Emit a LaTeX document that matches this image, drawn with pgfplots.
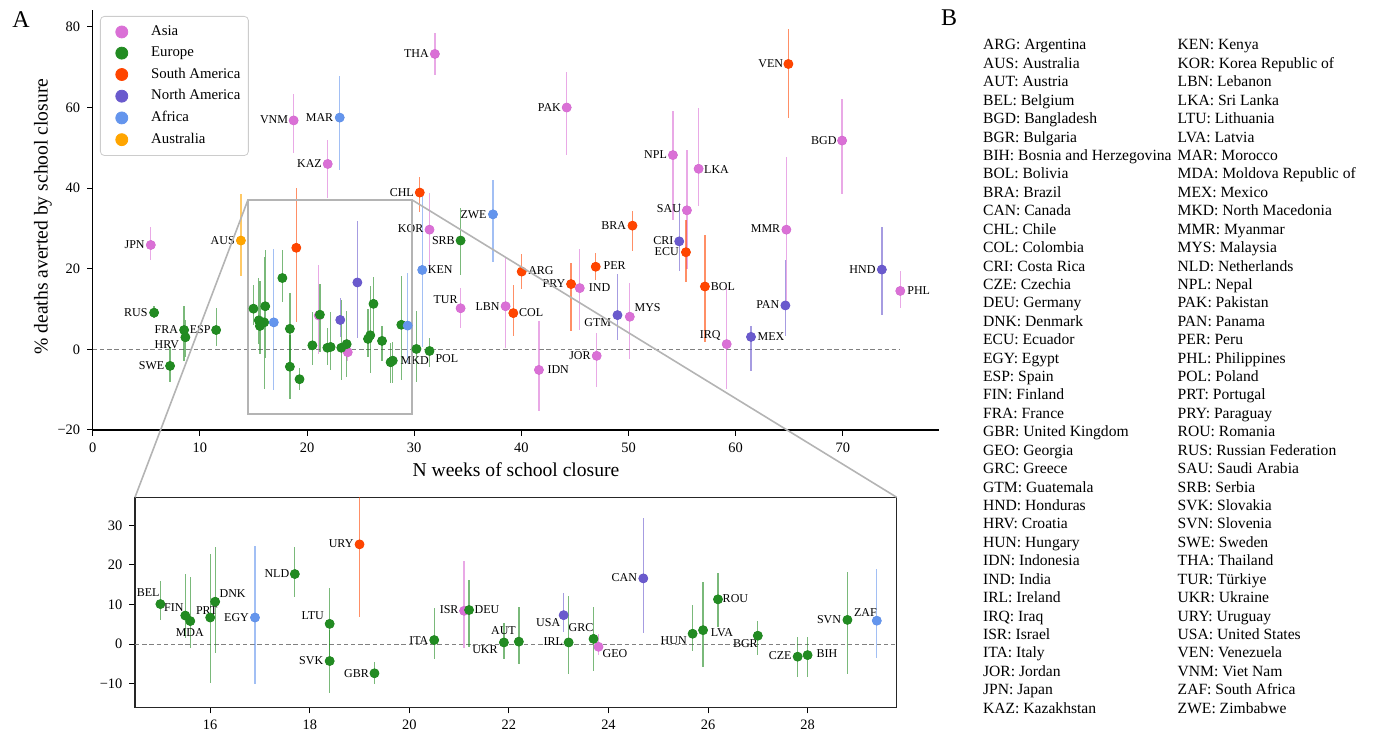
\documentclass[border=0pt]{standalone}
\usepackage{fontspec}
\setmainfont{Liberation Serif}
\usepackage{pgfplots}
\usepackage{pgfplotstable}
\pgfplotsset{compat=1.18}

\definecolor{asia}{HTML}{DA70D6}
\definecolor{europe}{HTML}{228B22}
\definecolor{samer}{HTML}{FF4500}
\definecolor{namer}{HTML}{6A5ACD}
\definecolor{africa}{HTML}{6495ED}
\definecolor{austr}{HTML}{FFA500}
\definecolor{zoomgray}{HTML}{B4B4B4}

\newcommand\labfont{\fontsize{6}{7}\selectfont}
\newcommand\tickfont{\fontsize{7.2}{8.5}\selectfont}
\newcommand\bfont{\fontsize{7.8}{9.2}\selectfont}

% name x y lo hi  (lo/hi = ends of the error bar)
\pgfplotstableread{
name x y lo hi
JPN 5.42 25.9 22.1 30.4
THA 31.93 73.3 68.1 78.4
VNM 18.75 56.8 48.7 63.3
KAZ 21.93 46.0 37.5 52.0
PAK 44.23 60.0 48.2 68.9
NPL 54.14 48.2 32.0 59.1
SAU 55.45 34.5 20.0 49.5
LKA 56.54 44.8 35.6 60.0
BGD 69.93 51.8 38.5 62.1
MMR 64.73 29.7 12.0 47.8
KOR 31.43 29.7 19.0 38.8
TUR 34.33 10.2 5.2 15.2
LBN 38.53 10.7 0.3 23.0
IND 45.45 15.2 4.8 24.8
MYS 50.12 8.1 -2.5 16.4
JOR 47.03 -1.6 -9.4 4.1
IDN 41.64 -5.1 -15.2 7.0
IRQ 59.16 1.3 -9.8 15.2
PHL 75.36 14.5 10.3 19.5
ISR 21.1 8.4 -1.1 21.0
GEO 23.8 -0.7 -2.8 2.5
}\asia

\pgfplotstableread{
name x y lo hi
RUS 5.73 9.1 7.7 10.8
FRA 8.53 4.8 -3.0 10.8
HRV 8.65 3.0 -1.8 7.3
ESP 11.52 4.8 0.8 10.3
SWE 7.22 -4.1 -8.0 0.7
SRB 34.33 27.0 18.5 35.0
POL 31.43 -0.4 -4.3 2.8
MKD 30.21 0.1 -8.0 9.4
BEL 15.0 10.1 6.1 16.0
FIN 15.5 7.2 1.4 17.6
MDA 15.6 5.8 -1.1 16.9
PRT 16.0 6.7 -9.8 22.8
DNK 16.1 10.7 -2.2 24.6
NLD 17.7 17.7 11.8 24.6
LTU 18.4 5.1 -3.5 14.1
SVK 18.4 -4.3 -12.3 3.5
GBR 19.3 -7.4 -10.1 -4.5
ITA 20.5 1.0 -3.9 9.2
DEU 21.2 8.6 -0.7 16.2
UKR 21.9 0.4 -3.9 5.2
AUT 22.2 0.6 -5.1 9.3
IRL 23.2 0.4 -7.6 12.2
GRC 23.7 1.3 -6.8 9.4
HUN 25.69 2.6 -1.8 9.9
LVA 25.9 3.5 -5.9 15.8
ROU 26.2 11.3 4.4 17.9
BGR 27.0 2.1 -2.8 5.9
CZE 27.8 -3.2 -8.4 1.7
BIH 28.0 -2.8 -8.3 1.9
SVN 28.8 6.1 -7.6 18.1
}\europe

\pgfplotstableread{
name x y lo hi
VEN 64.92 70.8 57.5 79.4
CHL 30.52 38.9 34.2 42.7
BRA 50.37 30.7 24.5 34.3
ARG 40.03 19.3 14.9 23.7
PER 46.94 20.5 17.2 23.8
PRY 44.64 16.2 4.6 21.5
COL 39.25 9.0 3.2 16.0
ECU 55.36 24.1 16.8 32.1
BOL 57.13 15.6 1.9 28.4
URY 19.0 25.2 6.8 40.0
}\samer

\pgfplotstableread{
name x y lo hi
CRI 54.73 26.8 19.5 36.3
GTM 48.97 8.5 2.3 18.7
PAN 64.64 10.9 3.2 22.2
MEX 61.43 3.1 -5.4 5.9
HND 73.64 19.8 8.5 30.3
USA 23.1 7.3 3.0 12.8
CAN 24.7 16.6 2.7 31.8
}\namer

\pgfplotstableread{
name x y lo hi
MAR 23.05 57.5 44.5 67.9
ZWE 37.35 33.5 21.8 42.0
KEN 30.75 19.7 0.5 38.5
EGY 16.9 6.7 -10.0 24.8
ZAF 29.39 5.9 -3.5 18.9
}\africa

\pgfplotstableread{
name x y lo hi
AUS 13.83 27.0 18.2 38.5
}\austr

\newcommand{\errs}[2]{\addplot[only marks, mark=none, forget plot,
  error bars/.cd, y dir=both, y explicit, error mark=none,
  error bar style={color=#2, line width=0.65pt, opacity=0.6}]
  table[x=x, y=y, y error plus expr=\thisrow{hi}-\thisrow{y},
        y error minus expr=\thisrow{y}-\thisrow{lo}] {#1};}
\newcommand{\pts}[2]{\addplot[only marks, mark=*, mark size=2.25pt,
  draw=#2, fill=#2] table[x=x, y=y] {#1};}
\newcommand{\lab}[3]{\node[font=\labfont, inner sep=0pt] at (axis cs:#1,#2) {#3};}

\pgfplotsset{
  every axis/.append style={
    scale only axis,
    tick label style={font=\tickfont},
    tick align=outside,
    major tick length=2.8pt,
    every tick/.style={black, line width=0.5pt},
    axis line style={line width=0.6pt},
    /pgf/number format/assume math mode=true,
  },
}

\begin{document}
\begin{tikzpicture}
\useasboundingbox (0,0) rectangle (687pt,366pt);

\begin{axis}[
  at={(46.35pt,151pt)}, anchor=south west,
  width=423.3pt, height=210pt,
  xmin=0, xmax=79, ymin=-20, ymax=84.2,
  axis x line*=bottom, axis y line*=left,
  xtick={0,10,...,70},
  ytick={-20,0,20,40,60,80},
  yticklabels={−20,0,20,40,60,80},
  xlabel={N weeks of school closure},
  ylabel={\% deaths averted by school closure},
  label style={font=\fontsize{9.8}{11}\selectfont},
  xlabel style={at={(axis description cs:0.5,-0.0952)}, anchor=center},
  ylabel style={at={(axis description cs:-0.0587,0.508)}, anchor=center, rotate=0},
  legend style={at={(0.0086,0.9857)}, anchor=north west,
    draw=black!20, rounded corners=2pt, fill=white,
    font=\fontsize{7.4}{9}\selectfont, row sep=0.2pt,
    inner xsep=2pt, inner ysep=2.6pt, cells={anchor=west}},
  legend image code/.code={\path (-8.5pt,0pt) (12.5pt,0pt);
    \draw[#1, mark size=3pt] plot coordinates {(0pt,0pt)};},
]
\addplot[gray, dashed, line width=0.5pt, dash pattern=on 2.2pt off 1.4pt, forget plot]
  coordinates {(0,0) (75.36,0)};
\errs{\asia}{asia}
\errs{\europe}{europe}
\errs{\samer}{samer}
\errs{\namer}{namer}
\errs{\africa}{africa}
\errs{\austr}{austr}
\pts{\asia}{asia}\addlegendentry{Asia}
\pts{\europe}{europe}\addlegendentry{Europe}
\pts{\samer}{samer}\addlegendentry{South America}
\pts{\namer}{namer}\addlegendentry{North America}
\pts{\africa}{africa}\addlegendentry{Africa}
\pts{\austr}{austr}\addlegendentry{Australia}

\lab{3.91}{25.9}{JPN}
\lab{30.21}{73.4}{THA}
\lab{16.92}{56.9}{VNM}
\lab{21.17}{57.6}{MAR}
\lab{20.23}{46.2}{KAZ}
\lab{42.62}{60.0}{PAK}
\lab{52.52}{48.4}{NPL}
\lab{58.21}{44.7}{LKA}
\lab{63.27}{71.0}{VEN}
\lab{68.23}{51.9}{BGD}
\lab{28.84}{39.0}{CHL}
\lab{35.54}{33.5}{ZWE}
\lab{29.67}{29.9}{KOR}
\lab{32.72}{27.1}{SRB}
\lab{32.43}{19.7}{KEN}
\lab{32.93}{12.4}{TUR}
\lab{36.85}{10.7}{LBN}
\lab{40.92}{9.1}{COL}
\lab{41.83}{19.5}{ARG}
\lab{43.04}{16.4}{PRY}
\lab{47.3}{15.3}{IND}
\lab{48.7}{20.7}{PER}
\lab{48.61}{30.8}{BRA}
\lab{47.13}{6.7}{GTM}
\lab{51.78}{10.4}{MYS}
\lab{45.47}{-1.5}{JOR}
\lab{43.44}{-5.1}{IDN}
\lab{33.05}{-2.2}{POL}
\lab{30.05}{-2.9}{MKD}
\lab{53.77}{34.9}{SAU}
\lab{53.25}{27.1}{CRI}
\lab{53.56}{24.2}{ECU}
\lab{62.79}{29.9}{MMR}
\lab{58.81}{15.7}{BOL}
\lab{71.83}{19.9}{HND}
\lab{77.08}{14.5}{PHL}
\lab{62.99}{11.2}{PAN}
\lab{57.62}{3.5}{IRQ}
\lab{63.3}{3.1}{MEX}
\lab{4.03}{9.2}{RUS}
\lab{6.87}{5.0}{FRA}
\lab{10.03}{5.0}{ESP}
\lab{6.92}{1.2}{HRV}
\lab{5.5}{-4.1}{SWE}
\lab{12.13}{27.0}{AUS}

\draw[zoomgray, line width=0.8pt] (axis cs:14.49,-16.1) rectangle (axis cs:29.79,37.1);
\coordinate (rtl) at (axis cs:14.49,37.1);
\coordinate (rtr) at (axis cs:29.79,37.1);
\end{axis}

\begin{axis}[
  at={(67.5pt,12.15pt)}, anchor=south west,
  width=380.85pt, height=105.2pt,
  xmin=14.49, xmax=29.79, ymin=-16.1, ymax=37.1,
  axis line style={line width=0.7pt, black!85},
  xtick={16,18,...,28},
  ytick={-10,0,10,20,30},
  yticklabels={−10,0,10,20,30},
  xtick pos=bottom, ytick pos=left,
]
\addplot[gray, dashed, line width=0.5pt, dash pattern=on 2.2pt off 1.4pt]
  coordinates {(14.49,0) (29.79,0)};
\errs{\asia}{asia}
\errs{\europe}{europe}
\errs{\samer}{samer}
\errs{\namer}{namer}
\errs{\africa}{africa}
\pts{\asia}{asia}
\pts{\europe}{europe}
\pts{\samer}{samer}
\pts{\namer}{namer}
\pts{\africa}{africa}

\lab{14.755}{13.0}{BEL}
\lab{15.27}{9.3}{FIN}
\lab{15.59}{2.9}{MDA}
\lab{15.93}{8.4}{PRT}
\lab{16.45}{12.8}{DNK}
\lab{16.53}{6.8}{EGY}
\lab{17.34}{17.7}{NLD}
\lab{18.06}{7.1}{LTU}
\lab{18.03}{-4.2}{SVK}
\lab{18.63}{25.3}{URY}
\lab{18.94}{-7.4}{GBR}
\lab{20.19}{1.0}{ITA}
\lab{20.8}{8.6}{ISR}
\lab{21.56}{8.6}{DEU}
\lab{21.89}{3.4}{AUT}
\lab{21.52}{-1.3}{UKR}
\lab{22.79}{5.5}{USA}
\lab{23.45}{4.2}{GRC}
\lab{22.89}{0.6}{IRL}
\lab{24.13}{-2.5}{GEO}
\lab{24.32}{16.8}{CAN}
\lab{25.31}{0.8}{HUN}
\lab{26.28}{3.0}{LVA}
\lab{26.55}{11.6}{ROU}
\lab{26.75}{0.0}{BGR}
\lab{27.45}{-3.0}{CZE}
\lab{28.39}{-2.5}{BIH}
\lab{28.43}{6.1}{SVN}
\lab{29.16}{8.0}{ZAF}
\coordinate (itl) at (rel axis cs:0,1);
\coordinate (itr) at (rel axis cs:1,1);
\end{axis}

\draw[zoomgray, line width=0.8pt] (rtl) -- (itl);
\draw[zoomgray, line width=0.8pt] (rtr) -- (itr);

\node[font=\fontsize{12}{14}\selectfont, inner sep=0pt] at (10.5pt,356pt) {A};
\node[font=\fontsize{12}{14}\selectfont, inner sep=0pt] at (474.5pt,357.25pt) {B};

\foreach \t [count=\i from 0] in {ARG: Argentina, AUS: Australia, AUT: Austria,
  BEL: Belgium, BGD: Bangladesh, BGR: Bulgaria, BIH: Bosnia and Herzegovina,
  BOL: Bolivia, BRA: Brazil, CAN: Canada, CHL: Chile, COL: Colombia,
  CRI: Costa Rica, CZE: Czechia, DEU: Germany, DNK: Denmark, ECU: Ecuador,
  EGY: Egypt, ESP: Spain, FIN: Finland, FRA: France, GBR: United Kingdom,
  GEO: Georgia, GRC: Greece, GTM: Guatemala, HND: Honduras, HRV: Croatia,
  HUN: Hungary, IDN: Indonesia, IND: India, IRL: Ireland, IRQ: Iraq,
  ISR: Israel, ITA: Italy, JOR: Jordan, JPN: Japan, KAZ: Kazakhstan}
  \node[anchor=base west, inner sep=0pt, font=\bfont] at (491.35pt, 341pt-\i*9.21pt) {\t};
\foreach \t [count=\i from 0] in {KEN: Kenya, KOR: Korea Republic of, LBN: Lebanon,
  LKA: Sri Lanka, LTU: Lithuania, LVA: Latvia, MAR: Morocco,
  MDA: Moldova Republic of, MEX: Mexico, MKD: North Macedonia, MMR: Myanmar,
  MYS: Malaysia, NLD: Netherlands, NPL: Nepal, PAK: Pakistan, PAN: Panama,
  PER: Peru, PHL: Philippines, POL: Poland, PRT: Portugal, PRY: Paraguay,
  ROU: Romania, RUS: Russian Federation, SAU: Saudi Arabia, SRB: Serbia,
  SVK: Slovakia, SVN: Slovenia, SWE: Sweden, THA: Thailand, TUR: Türkiye,
  UKR: Ukraine, URY: Uruguay, USA: United States, VEN: Venezuela,
  VNM: Viet Nam, ZAF: South Africa, ZWE: Zimbabwe}
  \node[anchor=base west, inner sep=0pt, font=\bfont] at (588.65pt, 341pt-\i*9.21pt) {\t};
\end{tikzpicture}
\end{document}
